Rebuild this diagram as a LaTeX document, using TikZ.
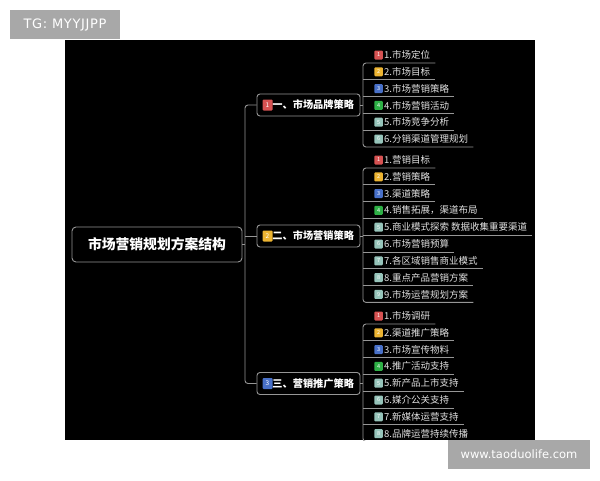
\documentclass[tikz,border=0pt]{standalone}
\usepackage{fontspec}
\setmainfont{Noto Sans CJK SC}
\newfontfamily\latinsans{DejaVu Sans}
\usetikzlibrary{positioning}

\definecolor{linegray}{RGB}{150,150,150}
\definecolor{itemtext}{RGB}{225,225,225}
\definecolor{markgray}{RGB}{168,168,168}
\definecolor{bdg1}{RGB}{214,82,82}
\definecolor{bdg2}{RGB}{236,180,50}
\definecolor{bdg3}{RGB}{72,112,200}
\definecolor{bdg4}{RGB}{46,176,70}
\definecolor{bdg5}{RGB}{150,196,186}
\colorlet{bdg6}{bdg5}
\colorlet{bdg7}{bdg5}
\colorlet{bdg8}{bdg5}
\colorlet{bdg9}{bdg5}

\tikzset{
  link/.style={draw=linegray, line width=0.9pt},
  rootbox/.style={draw=linegray, line width=0.9pt, fill=black, rounded corners=4pt,
    minimum width=170pt, minimum height=35pt, text=white,
    font=\fontsize{13.8}{14}\selectfont\bfseries},
  catbox/.style={draw=linegray, line width=0.9pt, fill=black, rounded corners=3pt,
    minimum width=103pt, minimum height=22pt, inner xsep=6pt, text width=91pt,
    align=right, text=white, font=\fontsize{10.2}{11}\selectfont\bfseries},
  item/.style={inner sep=0pt, anchor=west, text=itemtext, font=\fontsize{9.5}{10}\selectfont},
  badge/.style={fill=#1, rounded corners=1pt, inner sep=0pt, minimum width=8.5pt,
    minimum height=9pt, text=white, font=\fontsize{5.5}{5.5}\selectfont},
  bigbadge/.style={badge=#1, minimum width=10pt, minimum height=11pt, font=\fontsize{6.5}{6.5}\selectfont},
  wmark/.style={fill=markgray, text=white, inner sep=0pt, font=\latinsans\fontsize{11.5}{12}\selectfont}
}

\begin{document}
\begin{tikzpicture}[x=1pt, y=-1pt]
    % Hintergrund
    \fill[white] (0,0) rectangle (600,480);
    \fill[black] (65,40) rectangle (535,440);

    \begin{scope}
    \clip (65,40) rectangle (535,440);

    % Wurzel und Hauptzweige
    \node[rootbox] (root) at (157,244.5) {市场营销规划方案结构};
    \node[catbox] (b1) at (308.5,105) {一、市场品牌策略};
    \node[catbox] (b2) at (308.5,236) {二、市场营销策略};
    \node[catbox] (b3) at (308.5,383.5) {三、营销推广策略};
    \foreach \k in {1,2,3} {
        \node[bigbadge=bdg\k] (b\k-b) at ([xshift=11pt]b\k.west) {\k};
    }

    \coordinate (vr) at (245,0);
    \coordinate (vi) at (363,0);
    \draw[link] (root.east) -- (vr |- root.east);
    \draw[link, rounded corners=3pt] (b1.west) -- (vr |- b1.west) -- (vr |- b3.west) -- (b3.west);
    \draw[link] (vr |- b2.west) -- (b2.west);

    % Gruppe 1
    \foreach \t [count=\i] in {1.市场定位, 2.市场目标, 3.市场营销策略, 4.市场营销活动,
        5.市场竞争分析, 6.分销渠道管理规划} {
        \node[item] (g1-\i) at (384,{55+16.8*(\i-1)}) {\t};
        \node[badge=bdg\i, left=1pt of g1-\i] (g1-\i-b) {\i};
        \coordinate (g1-\i-r) at ([shift={(5pt,-8pt)}]g1-\i.east);
    }
    \foreach \i in {2,...,5} \draw[link] (vi |- g1-\i-r) -- (g1-\i-r);
    \draw[link, rounded corners=3pt] (g1-1-r) -- (vi |- g1-1-r) -- (vi |- g1-6-r) -- (g1-6-r);
    \draw[link] (b1.east) -- (vi |- b1.east);

    % Gruppe 2
    \foreach \t [count=\i] in {1.营销目标, 2.营销策略, 3.渠道策略, 4.销售拓展，渠道布局,
        5.商业模式探索 数据收集重要渠道, 6.市场营销预算, 7.各区域销售商业模式,
        8.重点产品营销方案, 9.市场运营规划方案} {
        \node[item] (g2-\i) at (384,{160+16.8*(\i-1)}) {\t};
        \node[badge=bdg\i, left=1pt of g2-\i] (g2-\i-b) {\i};
        \coordinate (g2-\i-r) at ([shift={(5pt,-8pt)}]g2-\i.east);
    }
    \foreach \i in {2,...,8} \draw[link] (vi |- g2-\i-r) -- (g2-\i-r);
    \draw[link, rounded corners=3pt] (g2-1-r) -- (vi |- g2-1-r) -- (vi |- g2-9-r) -- (g2-9-r);
    \draw[link] (b2.east) -- (vi |- b2.east);

    % Gruppe 3
    \foreach \t [count=\i] in {1.市场调研, 2.渠道推广策略, 3.市场宣传物料, 4.推广活动支持,
        5.新产品上市支持, 6.媒介公关支持, 7.新媒体运营支持, 8.品牌运营持续传播} {
        \node[item] (g3-\i) at (384,{316+16.8*(\i-1)}) {\t};
        \node[badge=bdg\i, left=1pt of g3-\i] (g3-\i-b) {\i};
        \coordinate (g3-\i-r) at ([shift={(5pt,-8pt)}]g3-\i.east);
    }
    \foreach \i in {2,...,7} \draw[link] (vi |- g3-\i-r) -- (g3-\i-r);
    \draw[link, rounded corners=3pt] (g3-1-r) -- (vi |- g3-1-r) -- (vi |- g3-8-r) -- (g3-8-r);
    \draw[link] (b3.east) -- (vi |- b3.east);
    \end{scope}

    % Wasserzeichen
    \node[wmark, minimum width=110pt, minimum height=29pt] (tg) at (65,24.5)
        {\fontsize{13}{14}\selectfont\addfontfeature{LetterSpace=5}TG: MYYJJPP};
    \node[wmark, minimum width=142pt, minimum height=29pt] (site) at (519,454.5)
        {www.taoduolife.com};
\end{tikzpicture}
\end{document}
